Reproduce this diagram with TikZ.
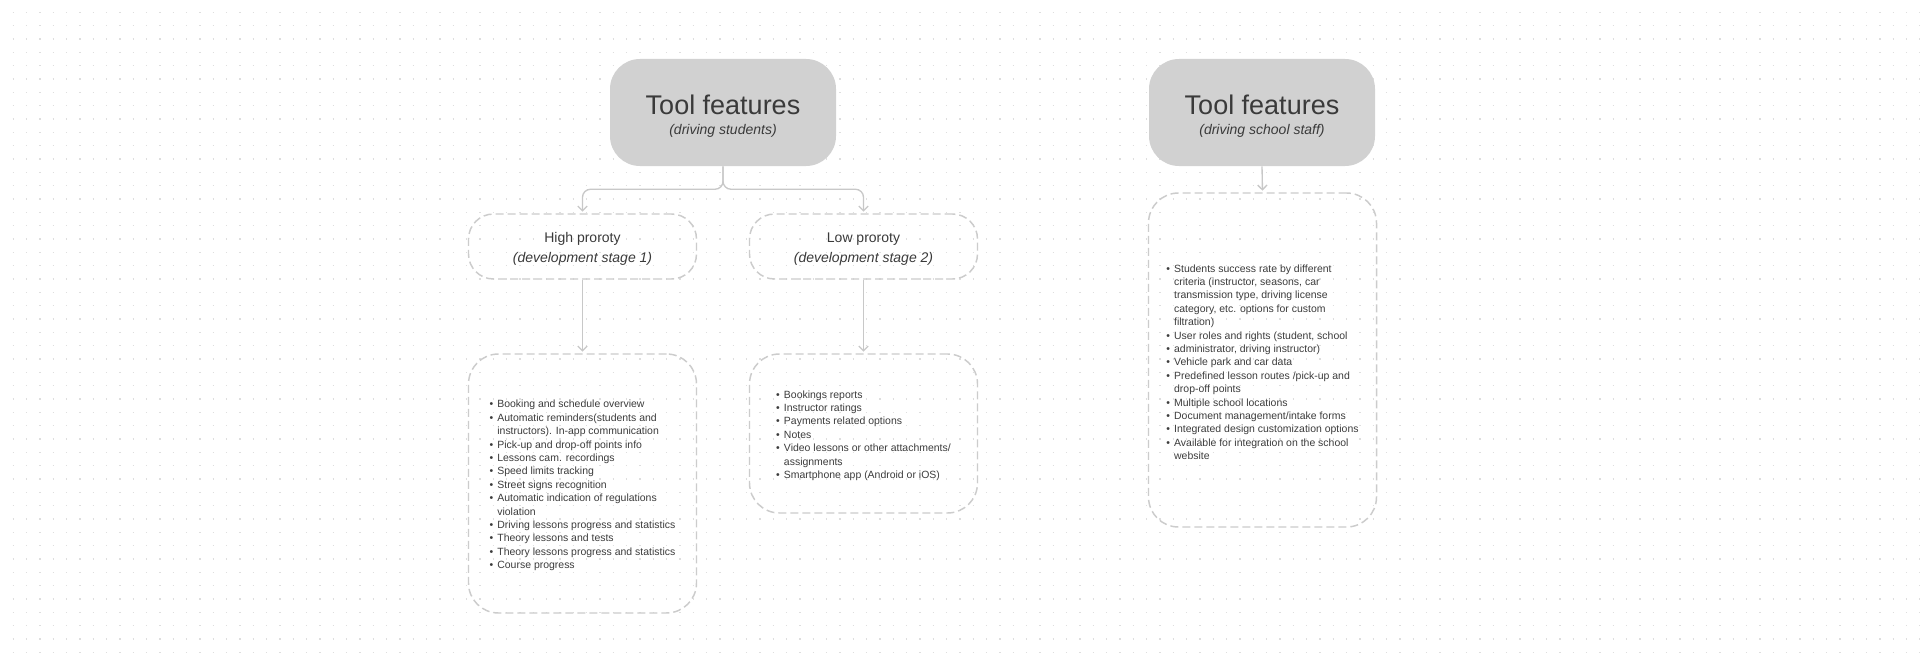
\documentclass[tikz,border=0pt]{standalone}
\usepackage{fontspec}
\setmainfont{Liberation Sans}
\usetikzlibrary{arrows.meta}
\definecolor{boxgray}{RGB}{209,209,209}
\definecolor{titlegray}{RGB}{58,58,58}
\definecolor{bodygray}{RGB}{60,60,60}
\definecolor{dashgray}{RGB}{204,204,204}
\definecolor{linkgray}{RGB}{200,200,200}
\definecolor{dotgray}{RGB}{222,222,222}
\newcommand{\featitem}[1]{\makebox[5.8pt][l]{\textbullet}#1}
\newcommand{\featmore}[1]{\hspace*{5.8pt}#1}
\newcommand{\feattop}{\rule{0pt}{8.8pt}}
\tikzset{
	headbox/.style={fill=boxgray, rounded corners=22.5pt, minimum width=169.5pt, minimum height=80.25pt, align=center, text=titlegray, font=\fontsize{10.5}{14.8}\selectfont},
	stagebox/.style={draw=dashgray, line width=1.1pt, dash pattern=on 6pt off 3pt, rounded corners=18.75pt, minimum width=171pt, minimum height=48.75pt, align=center, text=titlegray, font=\fontsize{10.5}{15}\selectfont},
	listbox/.style={draw=dashgray, line width=1.1pt, dash pattern=on 6pt off 3pt, rounded corners=22.5pt, minimum width=171pt, align=left, text=bodygray, font=\fontsize{7.85}{10.05}\selectfont},
	link/.style={draw=linkgray, line width=1pt, shorten >=1.2pt, -{Straight Barb[length=3.5pt,width=7pt]}},
}

\begin{document}
\begin{tikzpicture}[x=0.75pt,y=0.75pt,yscale=-1,xscale=1]
		\useasboundingbox (0,0) rectangle (1920,660);
		\fill[white] (0,0) rectangle (1920,660);
		\foreach \r in {0,...,48}
			\draw[dotgray, line width=1.05pt, dash pattern=on 1.05pt off 8.95pt] (12.6,12.3+13.333*\r) -- (1920,12.3+13.333*\r);
		\node[headbox] (stud) at (723,112.5) {\rule{0pt}{19.8pt}{\fontsize{20.25}{20}\selectfont Tool features}\\{\itshape (driving students)}};
		\node[headbox] (staff) at (1262,112.5) {\rule{0pt}{19.8pt}{\fontsize{20.25}{20}\selectfont Tool features}\\{\itshape (driving school staff)}};
		\node[stagebox] (high) at (582.5,246.5) {\rule{0pt}{11.6pt}High proroty\\{\itshape (development stage 1)}};
		\node[stagebox] (low) at (863.5,246.5) {\rule{0pt}{11.6pt}Low proroty\\{\itshape (development stage 2)}};
		\node[listbox, minimum height=194.25pt] (highlist) at (582.5,483.5) {\feattop\featitem{Booking and schedule overview}\\
			\featitem{Automatic reminders(students and}\\
			\featmore{instructors). In-app communication}\\
			\featitem{Pick-up and drop-off points info}\\
			\featitem{Lessons cam. recordings}\\
			\featitem{Speed limits tracking}\\
			\featitem{Street signs recognition}\\
			\featitem{Automatic indication of regulations}\\
			\featmore{violation}\\
			\featitem{Driving lessons progress and statistics}\\
			\featitem{Theory lessons and tests}\\
			\featitem{Theory lessons progress and statistics}\\
			\featitem{Course progress}};
		\node[listbox, minimum height=119.25pt] (lowlist) at (863.5,433.5) {\feattop\featitem{Bookings reports}\\
			\featitem{Instructor ratings}\\
			\featitem{Payments related options}\\
			\featitem{Notes}\\
			\featitem{Video lessons or other attachments/}\\
			\featmore{assignments}\\
			\featitem{Smartphone app (Android or iOS)}};
		\node[listbox, minimum height=250.5pt] (stafflist) at (1262.5,360) {\feattop\featitem{Students success rate by different}\\
			\featmore{criteria (instructor, seasons, car}\\
			\featmore{transmission type, driving license}\\
			\featmore{category, etc. options for custom}\\
			\featmore{filtration)}\\
			\featitem{User roles and rights (student, school}\\
			\featitem{administrator, driving instructor)}\\
			\featitem{Vehicle park and car data}\\
			\featitem{Predefined lesson routes /pick-up and}\\
			\featmore{drop-off points}\\
			\featitem{Multiple school locations}\\
			\featitem{Document management/intake forms}\\
			\featitem{Integrated design customization options}\\
			\featitem{Available for integration on the school}\\
			\featmore{website}};
		\draw[link, rounded corners=6pt] (stud.south) -- ++(0,23) -| (high.north);
		\draw[link, rounded corners=6pt] (stud.south) -- ++(0,23) -| (low.north);
		\draw[link] (high.south) -- (highlist.north);
		\draw[link] (low.south) -- (lowlist.north);
		\draw[link] (staff.south) -- (stafflist.north);
\end{tikzpicture}
\end{document}
